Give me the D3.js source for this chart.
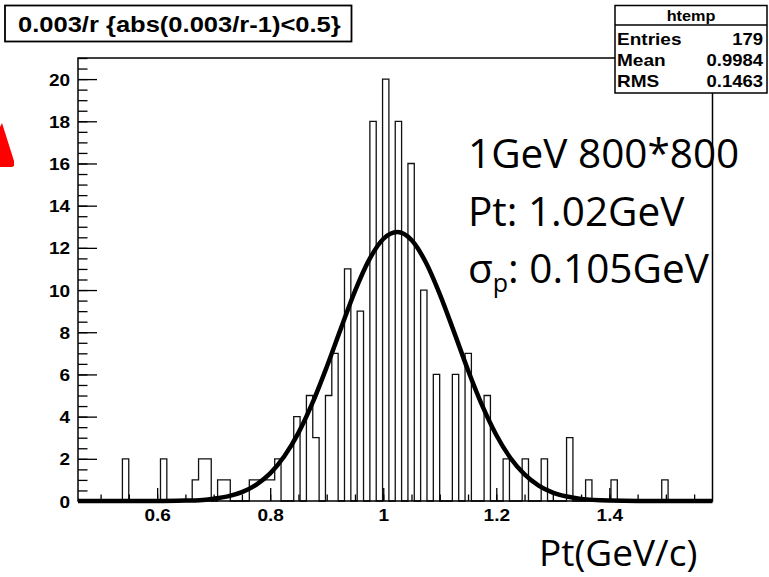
<!DOCTYPE html>
<html>
<head>
<meta charset="utf-8">
<script src="https://cdn.jsdelivr.net/npm/d3@7"></script>
<style>
    body { margin: 0; background: #fff; }
    svg { display: block; }
    .root-text { font-family: "Liberation Sans", Arial, sans-serif; font-weight: bold; fill: #000; }
    .note { font-family: "Open Sans", sans-serif; fill: #000; }
</style>
</head>
<body>
<svg id="chart" width="769" height="577"></svg>
<script>
    // histogram range, 100 bins
    var xRange = [0.46, 1.5825];
    var yRange = [0, 21];
    var counts = [
        0, 0, 0, 0, 0, 0, 0, 2, 0, 0,
        0, 0, 0, 2, 0, 0, 0, 0, 1, 2,
        2, 0, 1, 1, 0, 0, 0, 1, 1, 1,
        1, 2, 0, 0, 4, 0, 5, 3, 0, 5,
        7, 0, 11, 0, 9, 0, 18, 0, 20, 0,
        18, 0, 16, 0, 10, 0, 6, 0, 0, 6,
        0, 7, 0, 0, 5, 0, 0, 2, 0, 0,
        2, 0, 0, 2, 0, 0, 0, 3, 0, 0,
        1, 0, 0, 0, 1, 0, 0, 0, 0, 0,
        0, 0, 1, 0, 0, 0, 0, 0, 0, 0
    ];

    // gaussian fit curve
    var fitX = [0.46, 0.60, 0.65, 0.675, 0.70, 0.725, 0.75, 0.775, 0.80, 0.825, 0.85, 0.875,
        0.90, 0.925, 0.95, 0.975, 1.00, 1.025, 1.05, 1.075, 1.10, 1.125, 1.15, 1.175,
        1.20, 1.225, 1.25, 1.275, 1.30, 1.325, 1.35, 1.40, 1.45, 1.5825];
    var fitY = [0, 0, 0.02, 0.04, 0.11, 0.22, 0.42, 0.77, 1.31, 2.12, 3.23, 4.66,
        6.35, 8.17, 9.95, 11.43, 12.42, 12.75, 12.37, 11.33, 9.81, 8.03, 6.2, 4.53,
        3.13, 2.04, 1.26, 0.73, 0.40, 0.21, 0.10, 0.02, 0, 0];

    var xTickValues = [0.6, 0.8, 1, 1.2, 1.4];
    var yTickValues = [0, 2, 4, 6, 8, 10, 12, 14, 16, 18, 20];

    var titleText = "0.003/r {abs(0.003/r-1)<0.5}";
    var statsName = "htemp";
    var statsLabels = ["Entries", "Mean", "RMS"];
    var statsValues = ["179", "0.9984", "0.1463"];
    var noteLines = ["1GeV 800*800", "Pt: 1.02GeV"];
    var axisTitle = "Pt(GeV/c)";

    var svg = d3.select("#chart");
    var stretch = 1.12; // ROOT picture is a bit wider than tall

    var frame = { left: 78, right: 712.5, top: 58, bottom: 501 };

    var x = d3.scaleLinear().domain(xRange).range([frame.left, frame.right]);
    var y = d3.scaleLinear().domain(yRange).range([frame.bottom, frame.top]);

    svg.append("rect").attr("width", 769).attr("height", 577).attr("fill", "#fff");

    // red mark at left edge
    svg.append("polygon")
        .attr("points", "0,127 2,123 14,161 14,166 12,167 0,167")
        .attr("fill", "#ff0000");

    function rootText(parent, tx, ty, str, size, anchor) {
        return parent.append("text")
            .attr("class", "root-text")
            .attr("transform", "translate(" + tx + "," + ty + ") scale(" + stretch + ",1)")
            .attr("font-size", size)
            .attr("text-anchor", anchor || "start")
            .text(str);
    }

    /* histogram outline */
    var binW = (xRange[1] - xRange[0]) / counts.length;
    var pts = [[xRange[0], 0]];
    counts.forEach(function(c, i) {
        pts.push([xRange[0] + i * binW, c]);
        pts.push([xRange[0] + (i + 1) * binW, c]);
    });
    pts.push([xRange[1], 0]);

    var histLine = d3.line()
        .x(d => x(d[0]))
        .y(d => y(d[1]));

    svg.append("path")
        .attr("d", histLine(pts))
        .attr("fill", "none")
        .attr("stroke", "#111")
        .attr("stroke-width", 1.3);

    /* axes, ticks point inwards */
    var yMinor = svg.append("g")
        .attr("transform", "translate(" + frame.left + ",0)")
        .call(d3.axisLeft(y).tickValues(d3.range(0, 21.01, 0.5)).tickSize(-9.5).tickFormat(""));
    yMinor.select(".domain").remove();

    var yAxis = svg.append("g")
        .attr("transform", "translate(" + frame.left + ",0)")
        .call(d3.axisLeft(y).tickValues(yTickValues).tickSizeInner(-19).tickSizeOuter(0).tickPadding(7));
    yAxis.select(".domain").remove();
    yAxis.selectAll("text")
        .attr("class", "root-text")
        .attr("font-size", 17)
        .attr("dy", "0.36em")
        .attr("transform", "scale(" + stretch + ",1)");

    var xMinor = svg.append("g")
        .attr("transform", "translate(0," + frame.bottom + ")")
        .call(d3.axisBottom(x).tickValues(d3.range(0.5, 1.56, 0.05)).tickSize(-6.5).tickFormat(""));
    xMinor.select(".domain").remove();

    var xAxis = svg.append("g")
        .attr("transform", "translate(0," + frame.bottom + ")")
        .call(d3.axisBottom(x).tickValues(xTickValues).tickSizeInner(-13).tickSizeOuter(0)
            .tickFormat(d3.format("~g")));
    xAxis.select(".domain").remove();
    xAxis.selectAll("text")
        .attr("class", "root-text")
        .attr("font-size", 17)
        .attr("y", 20)
        .attr("dy", null)
        .attr("transform", "scale(" + stretch + ",1)");

    svg.selectAll(".tick line").attr("stroke", "#000").attr("stroke-width", 1.3);

    /* fit */
    var fitLine = d3.line()
        .x((d, i) => x(fitX[i]))
        .y(d => y(d))
        .curve(d3.curveMonotoneX);

    svg.append("path")
        .attr("d", fitLine(fitY))
        .attr("fill", "none")
        .attr("stroke", "#000")
        .attr("stroke-width", 4.5)
        .attr("stroke-linejoin", "round");

    /* frame */
    svg.append("rect")
        .attr("x", frame.left)
        .attr("y", frame.top)
        .attr("width", frame.right - frame.left)
        .attr("height", frame.bottom - frame.top)
        .attr("fill", "none")
        .attr("stroke", "#000")
        .attr("stroke-width", 1.5);

    /* title box */
    svg.append("rect")
        .attr("x", 5).attr("y", 5.5).attr("width", 346.5).attr("height", 36)
        .attr("fill", "#fff").attr("stroke", "#000").attr("stroke-width", 1.8);
    rootText(svg, 18, 31.5, titleText, 22.8);

    /* stats box */
    var stats = svg.append("g");
    stats.append("rect")
        .attr("x", 615).attr("y", 5.5).attr("width", 152).attr("height", 87.5)
        .attr("fill", "#fff").attr("stroke", "#000").attr("stroke-width", 1.5);
    stats.append("line")
        .attr("x1", 615).attr("x2", 767).attr("y1", 25).attr("y2", 25)
        .attr("stroke", "#000").attr("stroke-width", 1.3);
    rootText(stats, 691, 21, statsName, 14.5, "middle");
    statsLabels.forEach(function(lab, i) {
        rootText(stats, 617, 45 + i * 21, lab, 17);
        rootText(stats, 763, 45 + i * 21, statsValues[i], 16.5, "end");
    });

    /* annotations */
    noteLines.forEach(function(t, i) {
        svg.append("text").attr("class", "note")
            .attr("x", 468).attr("y", 168 + i * 58)
            .attr("font-size", 40.5)
            .text(t);
    });
    var sig = svg.append("text").attr("class", "note")
        .attr("x", 468).attr("y", 283)
        .attr("font-size", 40.5);
    sig.append("tspan").text("σ");
    sig.append("tspan").attr("font-size", 25).attr("dy", 9).text("p");
    sig.append("tspan").attr("dy", -9).text(": 0.105GeV");

    svg.append("text").attr("class", "note")
        .attr("x", 539).attr("y", 566)
        .attr("font-size", 37)
        .text(axisTitle);
</script>
</body>
</html>
